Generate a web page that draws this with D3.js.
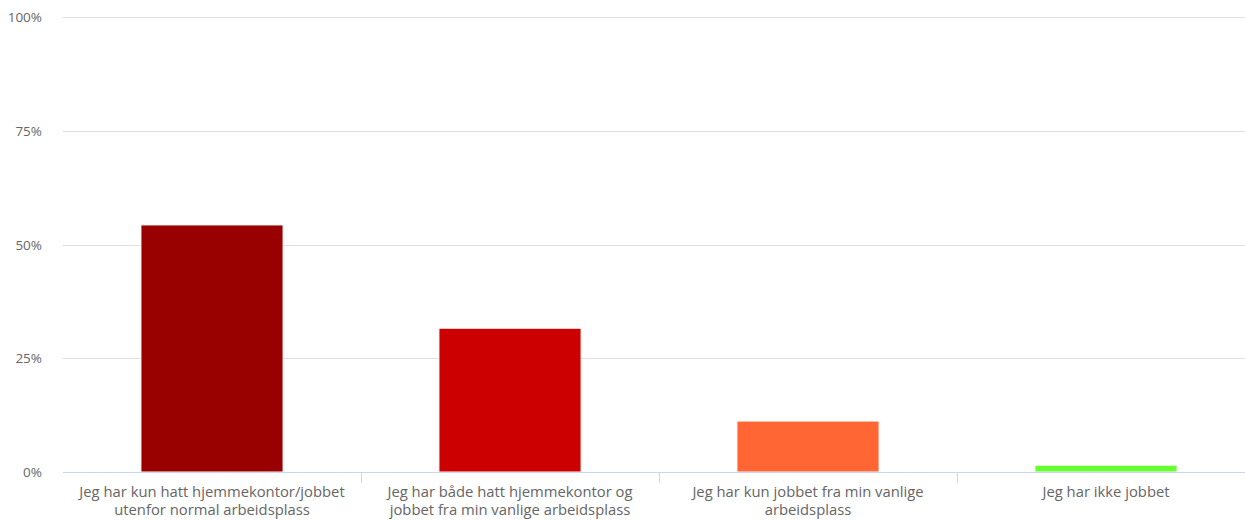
<!DOCTYPE html>
<html>
<head>
<meta charset="utf-8">
<script src="https://cdn.jsdelivr.net/npm/d3@7"></script>
<style>
  html, body { margin: 0; padding: 0; background: #fff; }
  svg { display: block; font-family: "Open Sans", sans-serif; }
</style>
</head>
<body>
<svg id="chart" width="1245" height="520"></svg>
<script>
const categories = [
  ["Jeg har kun hatt hjemmekontor/jobbet", "utenfor normal arbeidsplass"],
  ["Jeg har både hatt hjemmekontor og", "jobbet fra min vanlige arbeidsplass"],
  ["Jeg har kun jobbet fra min vanlige", "arbeidsplass"],
  ["Jeg har ikke jobbet"]
];
const values = [54.3, 31.6, 11.2, 1.5];
const colors = ["#990000", "#cc0000", "#ff6633", "#66ff33"];
const yTicks = [0, 25, 50, 75, 100];

(function () {
const svg = d3.select("#chart");
const mLeft = 63, mRight = 1255, mTop = 17, mBottom = 472;

const x = d3.scaleBand()
  .domain(d3.range(categories.length))
  .range([mLeft, mRight])
  .paddingInner(0.523)
  .paddingOuter(0.2615);
const step = x.step();

const y = d3.scaleLinear().domain([0, 100]).range([mBottom, mTop]);

// grid
svg.append("g").selectAll("line").data(yTicks.filter(d => d > 0)).join("line")
  .attr("x1", mLeft).attr("x2", mRight)
  .attr("y1", d => Math.round(y(d)) + 0.5).attr("y2", d => Math.round(y(d)) + 0.5)
  .attr("stroke", "#e0e0e0").attr("stroke-width", 1);

// y labels
svg.append("g").selectAll("text").data(yTicks).join("text")
  .attr("x", 42).attr("y", d => y(d) + 5)
  .attr("text-anchor", "end")
  .attr("font-size", 13.5).attr("fill", "#666666")
  .text(d => d + "%");

// bars
svg.append("g").selectAll("rect").data(values).join("rect")
  .attr("x", (d, i) => x(i))
  .attr("width", x.bandwidth())
  .attr("y", d => y(d))
  .attr("height", d => y(0) - y(d))
  .attr("fill", (d, i) => colors[i])
  .attr("stroke", "#ffffff").attr("stroke-width", 1);

// x axis line
svg.append("line")
  .attr("x1", mLeft).attr("x2", mRight)
  .attr("y1", mBottom + 0.5).attr("y2", mBottom + 0.5)
  .attr("stroke", "#ccd6eb").attr("stroke-width", 1);

// ticks at category boundaries
svg.append("g").selectAll("line").data(d3.range(1, categories.length)).join("line")
  .attr("x1", i => Math.round(mLeft + i * step) + 0.5)
  .attr("x2", i => Math.round(mLeft + i * step) + 0.5)
  .attr("y1", mBottom).attr("y2", mBottom + 11)
  .attr("stroke", "#ccd6eb").attr("stroke-width", 1);

// x labels
const xl = svg.append("g").selectAll("text").data(categories).join("text")
  .attr("x", (d, i) => x(i) + x.bandwidth() / 2)
  .attr("y", 497)
  .attr("text-anchor", "middle")
  .attr("font-size", 14.8).attr("fill", "#666666");
xl.selectAll("tspan").data(d => d).join("tspan")
  .attr("x", function() { return d3.select(this.parentNode).attr("x"); })
  .attr("dy", (d, i) => i === 0 ? 0 : 18)
  .text(d => d);
})();
</script>
</body>
</html>
